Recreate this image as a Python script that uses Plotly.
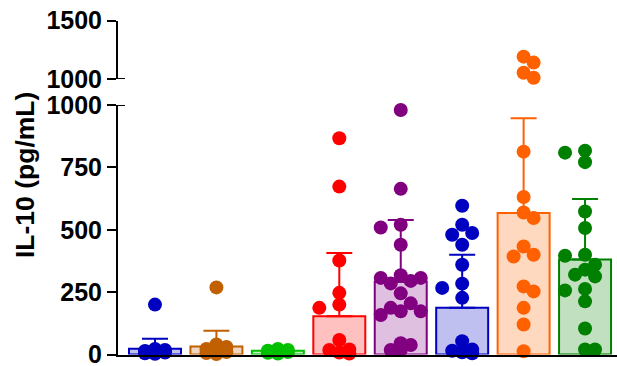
import math
import plotly.graph_objects as go

# IL-10 concentration per animal (pg/mL), one list per group
g1_vals = [200, 22, 18, 14, 10, 8, 5, 3]
g2_vals = [269, 40, 30, 22, 15, 10, 6, 2]
g3_vals = [22, 18, 15, 12, 10, 7, 4]
g4_vals = [867, 673, 377, 247, 200, 187, 58, 20, 18, 8, 4]
g5_vals = [980, 664, 520, 509, 440, 318, 307, 307, 295, 285, 245, 205,
           187, 173, 173, 158, 45, 38, 18, 18]
g6_vals = [596, 520, 487, 480, 440, 360, 284, 267, 227, 53, 20, 15, 9, 5]
g7_vals = [1191, 1140, 1054, 1011, 813, 631, 569, 547, 433, 400, 393,
           273, 253, 187, 120, 13]
g8_vals = [817, 809, 771, 573, 507, 400, 396, 360, 340, 320, 313, 263,
           257, 213, 104, 20, 20]

# group summary: mean and SD
means = [23, 32, 15, 153, 292, 187, 567, 381]
sds = [40, 63, 8, 254, 247, 213, 380, 242]

line_colors = ["#0000C0", "#C06000", "#00C000", "#FF0000",
               "#800080", "#0000C0", "#FF6000", "#008000"]
fill_colors = ["#C0C0F0", "#F0D8C0", "#C0F0C0", "#FFC0C0",
               "#E0C0E0", "#C0C0F0", "#FFD8C0", "#C0E0C0"]

all_vals = [g1_vals, g2_vals, g3_vals, g4_vals, g5_vals, g6_vals, g7_vals, g8_vals]

# layout geometry (pixels)
W, H = 617, 366
ML = 118
X_RANGE = [-0.602, 7.52]
PX_PER_X = (W - ML) / (X_RANGE[1] - X_RANGE[0])
LOW_DOM = [11.5 / H, 261 / H]
UP_DOM = [287 / H, 345.5 / H]
LOW_RANGE = [0, 1000]
UP_RANGE = [1000, 1500]
PX_PER_Y_LOW = (LOW_DOM[1] - LOW_DOM[0]) * H / (LOW_RANGE[1] - LOW_RANGE[0])
PX_PER_Y_UP = (UP_DOM[1] - UP_DOM[0]) * H / (UP_RANGE[1] - UP_RANGE[0])


def swarm_offsets(vals, px_per_y, step=10, min_dist=11.0, pile=12.0):
    """Compact beeswarm: horizontal pixel offsets on a fixed grid.
    Points piled at the baseline stay in the three central columns and
    overlap; higher points may use the outer columns when those are free."""
    inner = [0, step, -step]
    outer = [-2 * step, 2 * step]
    order = sorted(range(len(vals)), key=lambda i: -vals[i])
    placed = []
    offs = [0.0] * len(vals)

    def clearance(c, y):
        return min((math.hypot(c - px, y - py) for px, py in placed), default=1e9)

    for i in order:
        y = vals[i] * px_per_y
        cands = inner + (outer if y > pile else [])
        chosen = None
        for c in cands:
            if clearance(c, y) >= min_dist:
                chosen = c
                break
        if chosen is None:
            chosen = max(inner, key=lambda c: clearance(c, y))
        placed.append((chosen, y))
        offs[i] = chosen
    return [o / PX_PER_X for o in offs]


fig = go.Figure()

for k in range(8):
    fig.add_trace(go.Bar(
        x=[k], y=[means[k]], width=0.846,
        marker=dict(color=fill_colors[k], line=dict(color=line_colors[k], width=2)),
        error_y=dict(type="data", array=[sds[k]], arrayminus=[0], symmetric=False,
                     color=line_colors[k], thickness=2, width=13),
        xaxis="x", yaxis="y", showlegend=False, hoverinfo="skip",
    ))

for k, vals in enumerate(all_vals):
    low = [v for v in vals if v <= 1000]
    up = [v for v in vals if v > 1000]
    for seg, axis, ppy, base in ((low, "y", PX_PER_Y_LOW, 0), (up, "y2", PX_PER_Y_UP, 1000)):
        if not seg:
            continue
        offs = swarm_offsets([v - base for v in seg], ppy)
        fig.add_trace(go.Scatter(
            x=[k + o for o in offs], y=seg, mode="markers",
            marker=dict(size=14, color=line_colors[k], line=dict(width=0)),
            xaxis="x", yaxis=axis, cliponaxis=False, showlegend=False, hoverinfo="skip",
        ))

tick_font = dict(family="Liberation Sans, Arial, sans-serif", size=25, color="black", weight="bold")

axis_common = dict(
    showgrid=False, zeroline=False, showline=True, linecolor="black", linewidth=2,
    ticks="outside", ticklen=9, tickwidth=2, tickcolor="black", tickfont=tick_font,
    automargin=False, ticklabeloverflow="allow",
)

fig.update_layout(
    width=W, height=H,
    margin=dict(l=ML, r=0, t=0, b=0, autoexpand=False),
    plot_bgcolor="white", paper_bgcolor="white",
    barmode="overlay",
    xaxis=dict(range=X_RANGE, showgrid=False, zeroline=False, showline=True,
               linecolor="black", linewidth=2, showticklabels=False, ticks="",
               anchor="y", automargin=False),
    yaxis=dict(domain=LOW_DOM, range=LOW_RANGE, tickvals=[0, 250, 500, 750, 1000],
               anchor="x", **axis_common),
    yaxis2=dict(domain=UP_DOM, range=UP_RANGE, tickvals=[1000, 1500],
                anchor="x", **axis_common),
    annotations=[dict(
        text="IL-10 (pg/mL)", textangle=-90, showarrow=False,
        xref="paper", yref="paper", x=(25 - ML) / (W - ML), y=(H - 175) / H,
        xanchor="center", yanchor="middle",
        font=dict(family="Liberation Sans, Arial, sans-serif", size=26.5, color="black", weight="bold"),
    )],
    shapes=[
        dict(type="line", xref="paper", yref="y", x0=0, x1=7 / (W - ML), y0=1000, y1=1000,
             line=dict(color="black", width=2)),
        dict(type="line", xref="paper", yref="y2", x0=0, x1=7 / (W - ML), y0=1000, y1=1000,
             line=dict(color="black", width=2)),
    ],
)

fig.write_html("out.html")
